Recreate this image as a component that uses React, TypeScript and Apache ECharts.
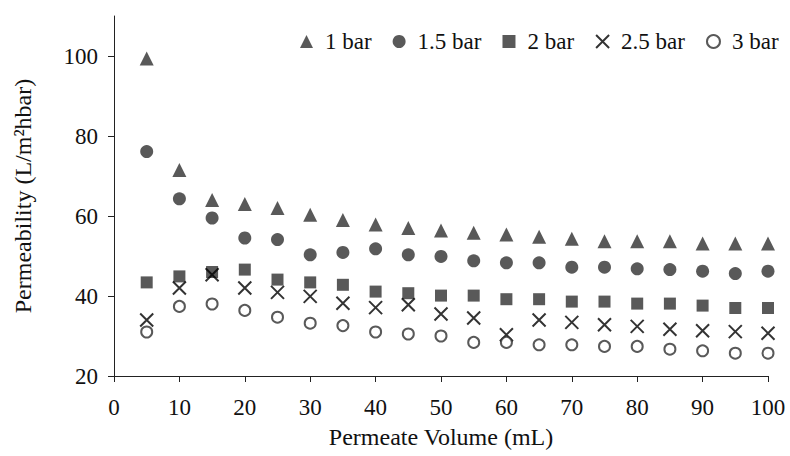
import React, { useEffect, useRef } from "react";
import * as echarts from "echarts";

const volumes = [5, 10, 15, 20, 25, 30, 35, 40, 45, 50, 55, 60, 65, 70, 75, 80, 85, 90, 95, 100];
const bar1 = [99.4, 71.5, 64.0, 63.0, 62.0, 60.3, 59.0, 57.9, 57.0, 56.4, 55.8, 55.4, 54.8, 54.3, 53.7, 53.7, 53.7, 53.1, 53.1, 53.1];
const bar15 = [76.1, 64.3, 59.5, 54.5, 54.1, 50.3, 50.9, 51.8, 50.3, 49.9, 48.8, 48.3, 48.3, 47.2, 47.2, 46.8, 46.6, 46.2, 45.6, 46.2];
const bar2 = [43.4, 44.9, 46.0, 46.6, 44.1, 43.4, 42.8, 41.1, 40.7, 40.1, 40.1, 39.2, 39.2, 38.6, 38.6, 38.1, 38.1, 37.6, 37.0, 37.0];
const bar25 = [34.0, 42.0, 45.3, 42.0, 40.9, 39.9, 38.2, 37.1, 37.8, 35.5, 34.5, 30.3, 34.0, 33.4, 32.8, 32.4, 31.7, 31.3, 31.1, 30.7];
const bar3 = [31.0, 37.4, 38.0, 36.4, 34.7, 33.2, 32.6, 31.0, 30.5, 30.0, 28.4, 28.4, 27.8, 27.8, 27.4, 27.4, 26.7, 26.3, 25.7, 25.7];
const seriesNames = ["1 bar", "1.5 bar", "2 bar", "2.5 bar", "3 bar"];
const yTicks = [20, 40, 60, 80, 100];

const FONT = "'Liberation Serif', 'Times New Roman', serif";
const DARK = "#303030";
const FS = 23;
const TFS = 24;

function pairs(vals: number[]) {
  return vals.map((v, i) => [volumes[i], v]);
}

export default function App() {
  const ref = useRef<HTMLDivElement>(null);
  useEffect(() => {
    if (!ref.current) return;
    const chart = echarts.init(ref.current, null, { renderer: "svg" });
    chart.setOption({
      animation: false,
      backgroundColor: "#ffffff",
      textStyle: { fontFamily: FONT },
      grid: { left: 114, right: 22, top: 16, bottom: 80 },
      legend: {
        data: seriesNames,
        left: 295,
        top: 25,
        itemWidth: 13,
        itemHeight: 13,
        itemGap: 21,
        textStyle: { fontFamily: FONT, fontSize: FS, color: "#111", padding: [0, 0, 0, 7] },
      },
      xAxis: {
        type: "value",
        min: 0,
        max: 100,
        interval: 10,
        name: "Permeate Volume (mL)",
        nameLocation: "middle",
        nameGap: 49,
        nameTextStyle: { fontFamily: FONT, fontSize: TFS, color: "#111" },
        axisLine: { lineStyle: { color: "#222", width: 1 } },
        axisTick: { show: true, length: 6, inside: false, lineStyle: { color: "#222" } },
        axisLabel: { fontFamily: FONT, fontSize: FS, color: "#111", margin: 20 },
        splitLine: { show: false },
      },
      yAxis: {
        type: "value",
        min: 20,
        max: 110,
        interval: 20,
        name: "Permeability (L/m²hbar)",
        nameLocation: "middle",
        nameGap: 79,
        nameTextStyle: { fontFamily: FONT, fontSize: TFS, color: "#111" },
        axisLine: { show: true, lineStyle: { color: "#222", width: 1 } },
        axisTick: { show: true, length: 6, inside: false, customValues: yTicks, lineStyle: { color: "#222" } },
        axisLabel: { fontFamily: FONT, fontSize: FS, color: "#111", margin: 16, customValues: yTicks },
        splitLine: { show: false },
      },
      series: [
        {
          name: seriesNames[0],
          type: "scatter",
          symbol: "triangle",
          symbolSize: 14,
          itemStyle: { color: DARK },
          data: pairs(bar1),
        },
        {
          name: seriesNames[1],
          type: "scatter",
          symbol: "circle",
          symbolSize: 13,
          itemStyle: { color: DARK },
          data: pairs(bar15),
        },
        {
          name: seriesNames[2],
          type: "scatter",
          symbol: "rect",
          symbolSize: 12,
          itemStyle: { color: DARK },
          data: pairs(bar2),
        },
        {
          name: seriesNames[3],
          type: "scatter",
          symbol: "path://M0,0L10,10M10,0L0,10",
          symbolSize: 13,
          itemStyle: { color: "transparent", borderColor: "#000", borderWidth: 2 },
          data: pairs(bar25),
        },
        {
          name: seriesNames[4],
          type: "scatter",
          symbol: "circle",
          symbolSize: 11,
          itemStyle: { color: "#ffffff", borderColor: DARK, borderWidth: 2 },
          data: pairs(bar3),
        },
      ],
    });
    return () => chart.dispose();
  }, []);
  return <div ref={ref} style={{ width: 790, height: 456, position: "absolute", left: 0, top: 0 }} />;
}
